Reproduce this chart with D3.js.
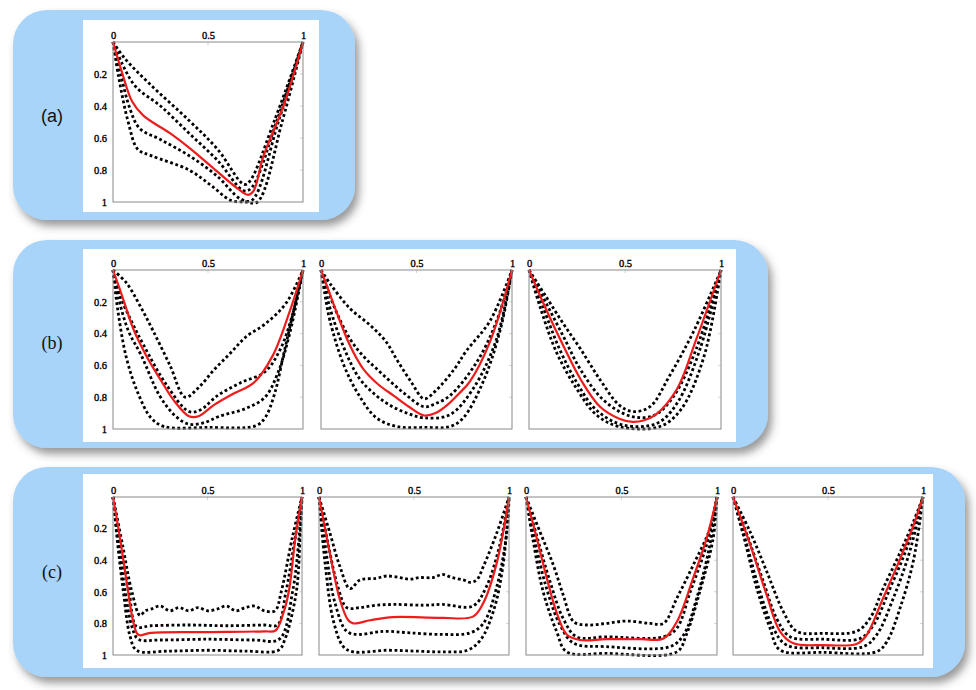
<!DOCTYPE html>
<html>
<head>
<meta charset="utf-8">
<script src="https://cdn.jsdelivr.net/npm/d3@7"></script>
<style>
  body { margin: 0; background: #fff; }
  svg { display: block; }
</style>
</head>
<body>
<div id="chart"></div>
<script>
// tick values and labels
var xTicks = [0, 0.5, 1];
var xTickLabels = ["0", "0.5", "1"];
var yTicks = [0.2, 0.4, 0.6, 0.8, 1];
var yTickLabels = ["0.2", "0.4", "0.6", "0.8", "1"];
var panelLabels = ["(a)", "(b)", "(c)"];

// curves: [x, depth] pairs
// (a)
var a1Red = [[0,0],[0.05,0.2],[0.1,0.37],[0.16,0.46],[0.3,0.57],[0.4,0.66],[0.52,0.78],[0.66,0.92],[0.71,0.955],[0.74,0.93],[0.79,0.72],[0.9,0.39],[1,0]];
var a1Dotted = [
  [[0,0],[0.06,0.1],[0.2,0.27],[0.4,0.49],[0.55,0.67],[0.69,0.89],[0.72,0.87],[0.85,0.49],[1,0]],
  [[0,0],[0.05,0.14],[0.12,0.28],[0.25,0.4],[0.4,0.57],[0.55,0.74],[0.69,0.93],[0.73,0.91],[0.86,0.5],[1,0]],
  [[0,0],[0.04,0.2],[0.09,0.42],[0.14,0.54],[0.25,0.61],[0.4,0.71],[0.55,0.84],[0.67,0.98],[0.73,0.99],[0.87,0.5],[1,0]],
  [[0,0],[0.03,0.22],[0.08,0.5],[0.13,0.67],[0.2,0.71],[0.4,0.8],[0.52,0.9],[0.62,0.99],[0.7,1.0],[0.76,1.0],[0.89,0.5],[1,0]]
];

// (b)
var b1Red = [[0,0],[0.05,0.17],[0.11,0.38],[0.18,0.55],[0.25,0.69],[0.32,0.82],[0.4,0.92],[0.45,0.92],[0.53,0.85],[0.63,0.78],[0.74,0.71],[0.84,0.54],[0.93,0.26],[1,0]];
var b1Dotted = [
  [[0,0],[0.07,0.08],[0.14,0.22],[0.21,0.38],[0.3,0.6],[0.38,0.8],[0.45,0.74],[0.53,0.63],[0.62,0.52],[0.7,0.42],[0.8,0.34],[0.91,0.21],[1,0]],
  [[0,0],[0.04,0.17],[0.1,0.33],[0.16,0.47],[0.28,0.72],[0.4,0.89],[0.46,0.88],[0.55,0.79],[0.67,0.71],[0.8,0.64],[0.88,0.5],[0.94,0.3],[1,0]],
  [[0,0],[0.03,0.18],[0.08,0.38],[0.15,0.54],[0.245,0.79],[0.33,0.92],[0.4,0.97],[0.48,0.96],[0.56,0.92],[0.7,0.87],[0.8,0.8],[0.87,0.64],[0.93,0.4],[1,0]],
  [[0,0],[0.025,0.25],[0.07,0.55],[0.13,0.77],[0.2,0.93],[0.27,0.985],[0.5,0.99],[0.75,0.98],[0.8,0.93],[0.85,0.78],[0.9,0.52],[0.95,0.26],[1,0]]
];
var b2Red = [[0,0],[0.04,0.13],[0.08,0.26],[0.15,0.47],[0.22,0.62],[0.3,0.72],[0.38,0.79],[0.46,0.86],[0.54,0.915],[0.6,0.9],[0.66,0.85],[0.72,0.78],[0.78,0.7],[0.885,0.45],[1,0]];
var b2Dotted = [
  [[0,0],[0.05,0.09],[0.15,0.24],[0.26,0.35],[0.34,0.45],[0.4,0.57],[0.47,0.7],[0.54,0.81],[0.6,0.76],[0.7,0.62],[0.76,0.51],[0.885,0.32],[1,0]],
  [[0,0],[0.035,0.12],[0.065,0.22],[0.15,0.43],[0.22,0.54],[0.29,0.62],[0.43,0.77],[0.54,0.86],[0.6,0.84],[0.675,0.79],[0.815,0.58],[0.92,0.32],[1,0]],
  [[0,0],[0.025,0.13],[0.047,0.24],[0.12,0.49],[0.2,0.68],[0.28,0.78],[0.36,0.85],[0.45,0.9],[0.54,0.93],[0.675,0.91],[0.8,0.74],[0.92,0.43],[1,0]],
  [[0,0],[0.02,0.15],[0.047,0.32],[0.12,0.6],[0.2,0.79],[0.29,0.93],[0.4,0.985],[0.55,0.99],[0.675,0.985],[0.745,0.93],[0.85,0.7],[0.94,0.37],[1,0]]
];
var b3Red = [[0,0],[0.09,0.25],[0.18,0.48],[0.27,0.69],[0.37,0.86],[0.47,0.935],[0.54,0.955],[0.6,0.945],[0.66,0.91],[0.77,0.75],[0.87,0.44],[1,0]];
var b3Dotted = [
  [[0,0],[0.09,0.17],[0.18,0.34],[0.27,0.5],[0.37,0.69],[0.47,0.85],[0.54,0.89],[0.63,0.86],[0.73,0.67],[0.86,0.38],[1,0]],
  [[0,0],[0.09,0.21],[0.18,0.42],[0.27,0.63],[0.39,0.82],[0.53,0.92],[0.65,0.915],[0.75,0.8],[0.87,0.5],[1,0]],
  [[0,0],[0.075,0.24],[0.16,0.5],[0.25,0.71],[0.35,0.88],[0.49,0.975],[0.665,0.965],[0.77,0.84],[0.89,0.5],[1,0]],
  [[0,0],[0.057,0.23],[0.144,0.52],[0.25,0.75],[0.35,0.91],[0.47,0.985],[0.68,0.985],[0.79,0.88],[0.91,0.55],[1,0]]
];

// (c)
var c1Red = [[0,0],[0.037,0.26],[0.075,0.56],[0.1,0.75],[0.125,0.86],[0.14,0.875],[0.2,0.86],[0.5,0.855],[0.8,0.85],[0.86,0.845],[0.9,0.74],[0.93,0.6],[0.965,0.26],[1,0]];
var c1Dotted = [
  [[0,0],[0.05,0.3],[0.1,0.6],[0.143,0.75],[0.17,0.72],[0.2,0.71],[0.25,0.69],[0.3,0.72],[0.35,0.7],[0.4,0.72],[0.45,0.7],[0.5,0.72],[0.55,0.71],[0.6,0.69],[0.65,0.72],[0.7,0.7],[0.75,0.69],[0.8,0.72],[0.857,0.72],[0.89,0.6],[0.95,0.25],[1,0]],
  [[0,0],[0.045,0.35],[0.085,0.6],[0.125,0.82],[0.2,0.815],[0.4,0.81],[0.6,0.815],[0.8,0.81],[0.87,0.81],[0.915,0.6],[0.965,0.25],[1,0]],
  [[0,0],[0.03,0.3],[0.065,0.6],[0.1,0.82],[0.134,0.9],[0.25,0.905],[0.5,0.9],[0.75,0.905],[0.88,0.9],[0.95,0.6],[0.985,0.25],[1,0]],
  [[0,0],[0.025,0.3],[0.055,0.6],[0.09,0.88],[0.125,0.97],[0.3,0.975],[0.5,0.97],[0.7,0.975],[0.875,0.97],[0.91,0.9],[0.97,0.6],[0.99,0.25],[1,0]]
];
var c2Red = [[0,0],[0.058,0.36],[0.11,0.65],[0.154,0.78],[0.18,0.8],[0.27,0.78],[0.39,0.76],[0.65,0.765],[0.81,0.757],[0.865,0.67],[0.935,0.42],[1,0]];
var c2Dotted = [
  [[0,0],[0.058,0.23],[0.11,0.44],[0.163,0.58],[0.216,0.525],[0.3,0.515],[0.356,0.5],[0.426,0.51],[0.48,0.52],[0.53,0.51],[0.6,0.51],[0.65,0.49],[0.7,0.51],[0.76,0.525],[0.795,0.54],[0.83,0.525],[0.865,0.44],[0.935,0.23],[1,0]],
  [[0,0],[0.05,0.31],[0.1,0.57],[0.146,0.7],[0.216,0.7],[0.3,0.685],[0.4,0.68],[0.55,0.685],[0.65,0.68],[0.81,0.69],[0.88,0.57],[0.95,0.31],[1,0]],
  [[0,0],[0.04,0.37],[0.084,0.67],[0.146,0.85],[0.216,0.87],[0.3,0.855],[0.356,0.85],[0.48,0.86],[0.65,0.87],[0.795,0.86],[0.865,0.8],[0.935,0.57],[0.99,0.21],[1,0]],
  [[0,0],[0.032,0.42],[0.075,0.78],[0.128,0.947],[0.18,0.98],[0.356,0.97],[0.5,0.975],[0.65,0.98],[0.78,0.97],[0.85,0.905],[0.92,0.715],[0.97,0.42],[1,0]]
];
var c3Red = [[0,0],[0.056,0.26],[0.108,0.51],[0.16,0.73],[0.213,0.87],[0.283,0.905],[0.42,0.9],[0.6,0.9],[0.72,0.895],[0.79,0.79],[0.876,0.51],[0.946,0.26],[1,0]];
var c3Dotted = [
  [[0,0],[0.073,0.22],[0.143,0.43],[0.195,0.62],[0.25,0.79],[0.32,0.81],[0.42,0.8],[0.527,0.785],[0.65,0.8],[0.72,0.8],[0.79,0.64],[0.876,0.43],[0.963,0.2],[1,0]],
  [[0,0],[0.064,0.28],[0.126,0.536],[0.195,0.77],[0.265,0.885],[0.42,0.885],[0.72,0.885],[0.79,0.83],[0.86,0.6],[0.946,0.3],[1,0]],
  [[0,0],[0.047,0.28],[0.108,0.58],[0.178,0.81],[0.25,0.926],[0.42,0.947],[0.754,0.947],[0.824,0.875],[0.894,0.64],[0.963,0.3],[1,0]],
  [[0,0],[0.038,0.28],[0.09,0.6],[0.16,0.85],[0.213,0.98],[0.42,0.99],[0.79,0.98],[0.84,0.87],[0.91,0.6],[0.98,0.26],[1,0]]
];
var c4Red = [[0,0],[0.09,0.3],[0.177,0.62],[0.247,0.85],[0.318,0.926],[0.475,0.937],[0.65,0.93],[0.7,0.88],[0.79,0.64],[0.88,0.39],[0.95,0.18],[1,0]];
var c4Dotted = [
  [[0,0],[0.09,0.22],[0.177,0.47],[0.265,0.726],[0.335,0.85],[0.475,0.863],[0.65,0.85],[0.72,0.77],[0.79,0.58],[0.88,0.35],[0.95,0.156],[1,0]],
  [[0,0],[0.08,0.26],[0.16,0.536],[0.23,0.77],[0.3,0.884],[0.475,0.9],[0.67,0.895],[0.74,0.81],[0.826,0.58],[0.914,0.325],[1,0]],
  [[0,0],[0.072,0.3],[0.142,0.6],[0.212,0.83],[0.282,0.937],[0.475,0.954],[0.686,0.947],[0.756,0.873],[0.844,0.64],[0.93,0.346],[1,0]],
  [[0,0],[0.063,0.28],[0.125,0.578],[0.195,0.83],[0.247,0.968],[0.475,0.983],[0.756,0.979],[0.81,0.915],[0.88,0.7],[0.95,0.4],[1,0]]
];

// layout of the three rounded boxes and their plots
var layout = [
  { blue: [13, 10, 342, 210], white: [83, 20, 236, 192], label: [52, 122], font: "Liberation Sans",
    plots: [[113, 42, 190, 160, a1Red, a1Dotted]] },
  { blue: [13, 240, 755, 208], white: [83, 249, 653, 193], label: [52, 349], font: "Liberation Serif",
    plots: [[113, 270, 190, 159, b1Red, b1Dotted], [321, 270, 191, 159, b2Red, b2Dotted], [529, 270, 192, 159, b3Red, b3Dotted]] },
  { blue: [13, 467, 952, 210], white: [83, 474, 850, 194], label: [52, 578], font: "Liberation Serif",
    plots: [[113, 497, 189, 158, c1Red, c1Dotted], [319, 497, 190, 158, c2Red, c2Dotted], [526, 497, 191, 158, c3Red, c3Dotted], [733, 497, 190, 158, c4Red, c4Dotted]] }
];

var svgWidth = 976;
var svgHeight = 690;

var svg = d3.select("#chart")
  .append("svg")
  .attr("width", svgWidth)
  .attr("height", svgHeight);

// drop shadow under the blue boxes
var filter = svg.append("defs").append("filter")
  .attr("id", "shadow")
  .attr("x", "-10%").attr("y", "-10%")
  .attr("width", "125%").attr("height", "130%");
filter.append("feDropShadow")
  .attr("dx", 4).attr("dy", 6)
  .attr("stdDeviation", 4)
  .attr("flood-color", "#444")
  .attr("flood-opacity", 0.55);

function styleTicks(sel) {
  sel.selectAll("text")
    .attr("font-family", "Liberation Serif, DejaVu Serif, serif")
    .attr("font-size", 10.5)
    .attr("fill", "#000")
    .attr("stroke", "#000")
    .attr("stroke-width", 0.35);
}

function drawPlot(g, x0, y0, w, h, red, dotted, showY) {
  var xScale = d3.scaleLinear().domain([0, 1]).range([x0, x0 + w]);
  var yScale = d3.scaleLinear().domain([0, 1]).range([y0, y0 + h]);

  var line = d3.line()
    .x(d => xScale(d[0]))
    .y(d => yScale(d[1]))
    .curve(d3.curveCatmullRom.alpha(0.5));

  // labels along the top
  var topAxis = d3.axisTop(xScale).tickValues(xTicks).tickFormat((d, i) => xTickLabels[i]).tickSize(0).tickPadding(3);
  var ax = g.append("g")
    .attr("transform", `translate(0, ${y0})`)
    .call(topAxis);
  ax.select(".domain").remove();
  styleTicks(ax);

  // faint inner ticks
  g.append("line")
    .attr("x1", xScale(0.5)).attr("x2", xScale(0.5))
    .attr("y1", y0).attr("y2", y0 + 3)
    .attr("stroke", "#d4d4d4");

  g.selectAll(null)
    .data(yTicks.slice(0, 4))
    .enter()
    .append("line")
    .attr("x1", x0 + w - 3).attr("x2", x0 + w)
    .attr("y1", d => yScale(d)).attr("y2", d => yScale(d))
    .attr("stroke", "#d4d4d4");

  if (showY) {
    var leftAxis = d3.axisLeft(yScale).tickValues(yTicks).tickFormat((d, i) => yTickLabels[i]).tickSize(0).tickPadding(6);
    var ay = g.append("g")
      .attr("transform", `translate(${x0}, 0)`)
      .call(leftAxis);
    ay.select(".domain").remove();
    styleTicks(ay);
  }

  // dotted curves
  g.selectAll(null)
    .data(dotted)
    .enter()
    .append("path")
    .attr("d", line)
    .attr("fill", "none")
    .attr("stroke", "#000")
    .attr("stroke-width", 2.8)
    .attr("stroke-dasharray", "2.8,2.6");

  // red mean curve
  g.append("path")
    .datum(red)
    .attr("d", line)
    .attr("fill", "none")
    .attr("stroke", "#ee1c1c")
    .attr("stroke-width", 2.2);

  // frame
  g.append("rect")
    .attr("x", x0).attr("y", y0)
    .attr("width", w).attr("height", h)
    .attr("fill", "none")
    .attr("stroke", "#8a8a8a")
    .attr("stroke-width", 1);
}

layout.forEach(function(box, i) {
  var g = svg.append("g");

  g.append("rect")
    .attr("x", box.blue[0]).attr("y", box.blue[1])
    .attr("width", box.blue[2]).attr("height", box.blue[3])
    .attr("rx", 34).attr("ry", 34)
    .attr("fill", "#a8d4fa")
    .attr("filter", "url(#shadow)");

  g.append("rect")
    .attr("x", box.white[0]).attr("y", box.white[1])
    .attr("width", box.white[2]).attr("height", box.white[3])
    .attr("fill", "#fff");

  g.append("text")
    .attr("x", box.label[0]).attr("y", box.label[1])
    .attr("text-anchor", "middle")
    .attr("font-family", box.font)
    .attr("font-size", 18)
    .attr("fill", "#111")
    .text(panelLabels[i]);

  box.plots.forEach(function(p, j) {
    drawPlot(g, p[0], p[1], p[2], p[3], p[4], p[5], j === 0);
  });
});
</script>
</body>
</html>
